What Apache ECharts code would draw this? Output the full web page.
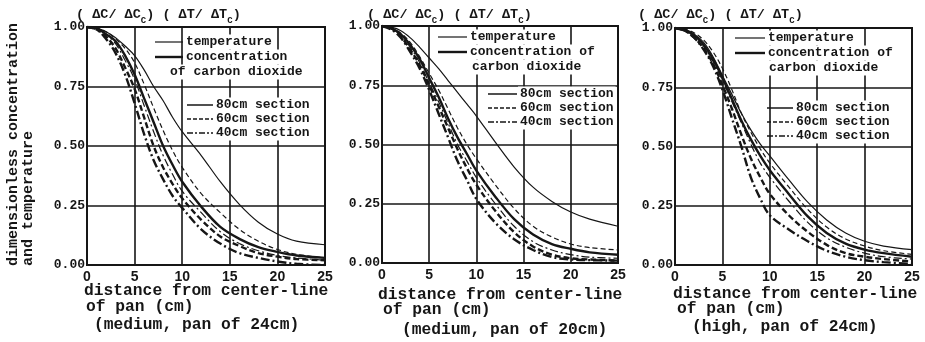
<!DOCTYPE html>
<html>
<head>
<meta charset="utf-8">
<script src="https://cdn.jsdelivr.net/npm/echarts@6/dist/echarts.min.js"></script>
<style>html,body{margin:0;padding:0;background:#fff;}#c{width:925px;height:342px;}</style>
</head>
<body>
<div id="c"></div>
<script>
// distance from center-line of pan (cm)
const xCm = [0,1,2,3,4,5,6,7,8,9,10,12,14,16,18,20,22,25];
const xTicks = [0,5,10,15,20,25];
const yTicks = ['0.00','0.25','0.50','0.75','1.00'];

// Panel 1 (medium, pan of 24cm)
const p1T80 = [1.0,0.995,0.98,0.955,0.92,0.88,0.82,0.75,0.69,0.62,0.56,0.46,0.35,0.255,0.18,0.13,0.10,0.085];
const p1T60 = [1.0,0.995,0.98,0.95,0.91,0.85,0.76,0.66,0.565,0.48,0.41,0.30,0.22,0.15,0.10,0.065,0.045,0.03];
const p1T40 = [1.0,0.995,0.97,0.93,0.86,0.78,0.67,0.56,0.46,0.38,0.31,0.22,0.14,0.09,0.06,0.04,0.03,0.02];
const p1C80 = [1.0,0.995,0.97,0.94,0.88,0.80,0.70,0.60,0.50,0.42,0.35,0.245,0.16,0.11,0.075,0.055,0.04,0.03];
const p1C60 = [1.0,0.99,0.96,0.91,0.83,0.74,0.62,0.50,0.41,0.34,0.28,0.19,0.12,0.08,0.05,0.035,0.025,0.02];
const p1C40 = [1.0,0.99,0.95,0.89,0.80,0.68,0.55,0.44,0.36,0.29,0.24,0.15,0.09,0.05,0.03,0.015,0.005,0.0];

// Panel 2 (medium, pan of 20cm)
const p2T80 = [1.0,0.995,0.98,0.95,0.91,0.865,0.82,0.77,0.72,0.67,0.62,0.51,0.405,0.32,0.26,0.215,0.185,0.155];
const p2T60 = [1.0,0.99,0.97,0.93,0.87,0.80,0.73,0.65,0.57,0.50,0.44,0.33,0.23,0.155,0.11,0.08,0.065,0.055];
const p2T40 = [1.0,0.99,0.96,0.91,0.845,0.76,0.68,0.59,0.50,0.43,0.36,0.25,0.155,0.09,0.055,0.035,0.025,0.02];
const p2C80 = [1.0,0.99,0.965,0.92,0.86,0.78,0.70,0.61,0.53,0.46,0.39,0.28,0.185,0.12,0.08,0.06,0.045,0.035];
const p2C60 = [1.0,0.99,0.955,0.90,0.835,0.75,0.66,0.57,0.48,0.40,0.33,0.22,0.13,0.07,0.035,0.02,0.015,0.01];
const p2C40 = [1.0,0.985,0.95,0.89,0.82,0.73,0.63,0.53,0.43,0.35,0.27,0.17,0.10,0.055,0.025,0.015,0.012,0.01];

// Panel 3 (high, pan of 24cm)
const p3T80 = [1.0,0.995,0.975,0.94,0.88,0.80,0.72,0.64,0.57,0.51,0.46,0.36,0.265,0.19,0.135,0.10,0.08,0.065];
const p3T60 = [1.0,0.995,0.98,0.95,0.90,0.83,0.74,0.64,0.56,0.49,0.43,0.33,0.235,0.16,0.11,0.08,0.06,0.045];
const p3T40 = [1.0,0.99,0.965,0.925,0.86,0.78,0.69,0.60,0.51,0.43,0.37,0.27,0.18,0.115,0.075,0.05,0.035,0.025];
const p3C80 = [1.0,0.99,0.97,0.93,0.87,0.79,0.70,0.61,0.53,0.46,0.40,0.30,0.205,0.135,0.09,0.065,0.05,0.035];
const p3C60 = [1.0,0.99,0.96,0.915,0.85,0.76,0.66,0.55,0.45,0.37,0.30,0.21,0.14,0.085,0.05,0.035,0.025,0.015];
const p3C40 = [1.0,0.99,0.96,0.91,0.84,0.74,0.62,0.50,0.37,0.28,0.21,0.15,0.10,0.06,0.035,0.02,0.012,0.005];

const panelNotes = ['(medium, pan of 24cm)','(medium, pan of 20cm)','(high, pan of 24cm)'];

const INK = '#161616';
const FONT = '"Liberation Mono", "DejaVu Sans Mono", monospace';
const grids = [
  {left: 87, top: 27, width: 238, height: 238},
  {left: 382, top: 26, width: 236, height: 237},
  {left: 675, top: 28, width: 237, height: 237}
];
const panels = [
  [p1T80,p1T60,p1T40,p1C80,p1C60,p1C40],
  [p2T80,p2T60,p2T40,p2C80,p2C60,p2C40],
  [p3T80,p3T60,p3T40,p3C80,p3C60,p3C40]
];
const styles = [
  {width: 1.2, type: 'solid'},
  {width: 1.2, type: [5,3]},
  {width: 1.2, type: [8,3,2,3]},
  {width: 2.4, type: 'solid'},
  {width: 2.4, type: [6,3]},
  {width: 2.4, type: [9,3,2,3]}
];
const names = ['temperature 80cm','temperature 60cm','temperature 40cm','CO2 80cm','CO2 60cm','CO2 40cm'];

const xAxes = [], yAxes = [], series = [];
grids.forEach((g, i) => {
  g.show = true; g.borderColor = INK; g.borderWidth = 2; g.backgroundColor = 'transparent';
  xAxes.push({
    gridIndex: i, type: 'value', min: 0, max: 25, interval: 5,
    axisLine: {show: true, lineStyle: {color: INK, width: 2}},
    axisTick: {show: false},
    splitLine: {show: true, lineStyle: {color: INK, width: 1.6}},
    axisLabel: {color: INK, fontFamily: '"Liberation Sans", Arial, sans-serif', fontWeight: 'bold', fontSize: 14, margin: 5,
      formatter: v => xTicks.indexOf(v) >= 0 ? String(v) : ''}
  });
  yAxes.push({
    gridIndex: i, type: 'value', min: 0, max: 1, interval: 0.25,
    axisLine: {show: true, lineStyle: {color: INK, width: 2}},
    axisTick: {show: false},
    splitLine: {show: true, lineStyle: {color: INK, width: 1.6}},
    axisLabel: {color: INK, fontFamily: FONT, fontWeight: 'bold', fontSize: 13, margin: 2,
      formatter: v => yTicks[Math.round(v / 0.25)]}
  });
  panels[i].forEach((arr, k) => {
    series.push({
      type: 'line', name: names[k], xAxisIndex: i, yAxisIndex: i,
      data: xCm.map((x, j) => [x, arr[j]]),
      smooth: 0.35, symbol: 'none', silent: true, z: 5,
      lineStyle: {color: INK, width: styles[k].width, type: styles[k].type}
    });
  });
});

// legend + labels as graphics
const graphic = [];
function txt(x, y, s, size) {
  return {type: 'text', x: x, y: y, z: 20,
    style: {text: s, fill: INK, font: 'bold ' + size + 'px ' + FONT, align: 'left', verticalAlign: 'middle'}};
}
function lgText(x, y, s) {
  return {type: 'text', x: x, y: y, z: 20,
    style: {text: s, fill: INK, font: 'bold 13px ' + FONT, align: 'left', verticalAlign: 'middle',
      backgroundColor: '#fff', padding: [1, 2]}};
}
function lgLine(x1, x2, y, st) {
  return {type: 'line', z: 21, shape: {x1: x1, y1: y, x2: x2, y2: y},
    style: {stroke: INK, lineWidth: st.width, lineDash: st.type === 'solid' ? null : st.type}};
}
const legendPos = [
  {tx: 155, tw: 28, ty: 42, cx: 168, sx: 187, sw: 26, sy: 105, single: false},
  {tx: 438, tw: 29, ty: 37, cx: 470, sx: 488, sw: 29, sy: 94, single: true},
  {tx: 735, tw: 30, ty: 38, cx: 767, sx: 767, sw: 26, sy: 108, single: true}
];
legendPos.forEach((p) => {
  graphic.push(lgLine(p.tx, p.tx + p.tw, p.ty, {width: 1.2, type: 'solid'}));
  graphic.push(lgText(p.tx + p.tw + 1, p.ty, 'temperature'));
  graphic.push(lgLine(p.tx, p.tx + p.tw, p.ty + 15, {width: 2.4, type: 'solid'}));
  graphic.push(lgText(p.tx + p.tw + 1, p.ty + 15, p.single ? 'concentration of' : 'concentration'));
  graphic.push(lgText(p.cx, p.ty + 30, p.single ? 'carbon dioxide' : 'of carbon dioxide'));
  const secs = ['80cm section','60cm section','40cm section'];
  const secStyles = [{width: 1.5, type: 'solid'},{width: 1.5, type: [4,2]},{width: 1.5, type: [6,2,2,2]}];
  secs.forEach((s, k) => {
    graphic.push(lgLine(p.sx, p.sx + p.sw, p.sy + k * 14, secStyles[k]));
    graphic.push(lgText(p.sx + p.sw + 1, p.sy + k * 14, s));
  });
});

// titles
const titleX = [76, 367, 638];
titleX.forEach((x) => {
  graphic.push({type: 'text', x: x, y: 6, z: 20, style: {
    text: '{a|( ΔC/ ΔC}{s|C}{a|) ( ΔT/ ΔT}{s|C}{a|)}',
    rich: {a: {font: 'bold 13.5px ' + FONT, fill: INK, lineHeight: 16, verticalAlign: 'bottom'},
           s: {font: 'bold 9px ' + FONT, fill: INK, lineHeight: 12, verticalAlign: 'bottom', padding: [0,0,-3,0]}}
  }});
});

// x axis names
const xn = [
  {x1: 84, y1: 291, x2: 86, y2: 307, x3: 94, y3: 325},
  {x1: 378, y1: 295, x2: 383, y2: 310, x3: 402, y3: 330},
  {x1: 673, y1: 294, x2: 677, y2: 309, x3: 692, y3: 327}
];
xn.forEach((p, i) => {
  graphic.push(txt(p.x1, p.y1, 'distance from center-line', 16.3));
  graphic.push(txt(p.x2, p.y2, 'of pan (cm)', 16.3));
  graphic.push(txt(p.x3, p.y3, panelNotes[i], 16.3));
});

// y axis name (rotated)
graphic.push({type: 'text', x: 13, y: 266, rotation: Math.PI / 2, z: 20,
  style: {text: 'dimensionless concentration', fill: INK, font: 'bold 15px ' + FONT, align: 'left', verticalAlign: 'middle'}});
graphic.push({type: 'text', x: 28, y: 266, rotation: Math.PI / 2, z: 20,
  style: {text: 'and temperature', fill: INK, font: 'bold 15px ' + FONT, align: 'left', verticalAlign: 'middle'}});

const chart = echarts.init(document.getElementById('c'), null, {renderer: 'canvas'});
chart.setOption({
  backgroundColor: '#ffffff',
  animation: false,
  grid: grids,
  xAxis: xAxes,
  yAxis: yAxes,
  series: series,
  graphic: graphic
});
</script>
</body>
</html>
